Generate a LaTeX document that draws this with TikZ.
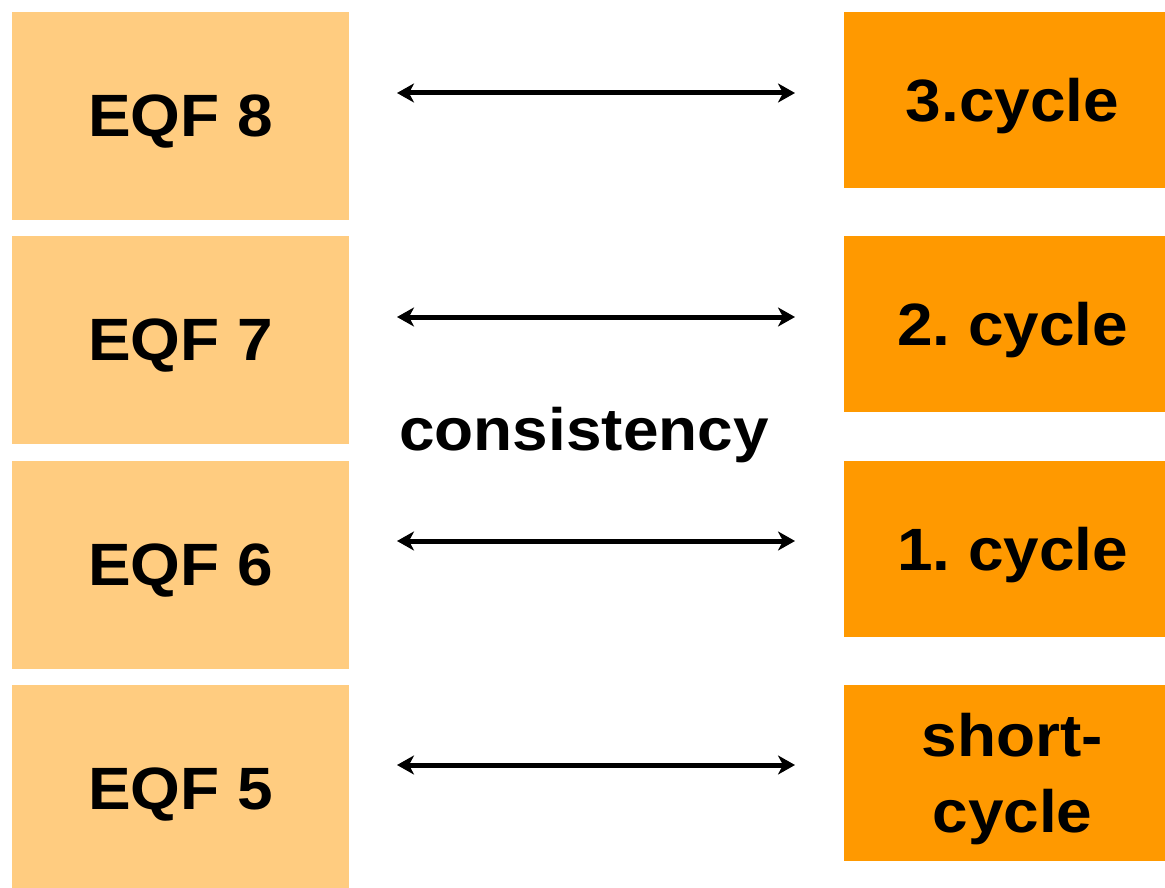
\documentclass[tikz,border=0pt]{standalone}
\usepackage{fontspec}
\setmainfont{Liberation Sans}[FakeStretch=1.07]
\usetikzlibrary{arrows.meta}
\frenchspacing

\definecolor{eqfcol}{HTML}{FFCC80}
\definecolor{cyclecol}{HTML}{FF9900}

\tikzset{
  eqfbox/.style={fill=eqfcol, minimum width=6.74cm, minimum height=4.16cm,
    inner sep=0pt, text depth=0pt},
  cyclebox/.style={fill=cyclecol, minimum width=6.74cm, minimum height=3.52cm,
    inner sep=0pt, align=center, text depth=0pt},
  link/.style={line width=0.1cm,
    {Stealth[length=0.34cm,width=0.38cm,inset=0.1cm]}-{Stealth[length=0.34cm,width=0.38cm,inset=0.1cm]}}
}

\begin{document}
\begin{tikzpicture}[x=0.02cm,y=-0.02cm,font=\fontsize{34}{43.2}\selectfont\bfseries]
        \useasboundingbox (0,0) rectangle (1165,888);
        \clip (0,0) rectangle (1165,888);
        %% EQF levels
        \node[eqfbox] (eqf8) at (180.5,116) {EQF 8};
        \node[eqfbox] (eqf7) at (180.5,340) {EQF 7};
        \node[eqfbox] (eqf6) at (180.5,565) {EQF 6};
        \node[eqfbox] (eqf5) at (180.5,789) {EQF 5};
        %% Cycles
        \node[cyclebox] (cyc3) at (1012.5,100) {3.cycle};
        \node[cyclebox] (cyc2) at (1012.5,324) {2. cycle};
        \node[cyclebox] (cyc1) at (1012.5,549) {1. cycle};
        \node[cyclebox] (cycs) at (1012.5,773) {short-\\cycle};
        %% Arrows
        \coordinate (l8) at (397,93);  \coordinate (r8) at (795,93);
        \coordinate (l7) at (397,317); \coordinate (r7) at (795,317);
        \coordinate (l6) at (397,541); \coordinate (r6) at (795,541);
        \coordinate (l5) at (397,765); \coordinate (r5) at (795,765);
        \draw[link] (l8) -- (r8);
        \draw[link] (l7) -- (r7);
        \draw[link] (l6) -- (r6);
        \draw[link] (l5) -- (r5);
        %% Label
        \node[text depth=0pt,inner sep=0pt] (cons) at (584,429) {consistency};
    \end{tikzpicture}
\end{document}
